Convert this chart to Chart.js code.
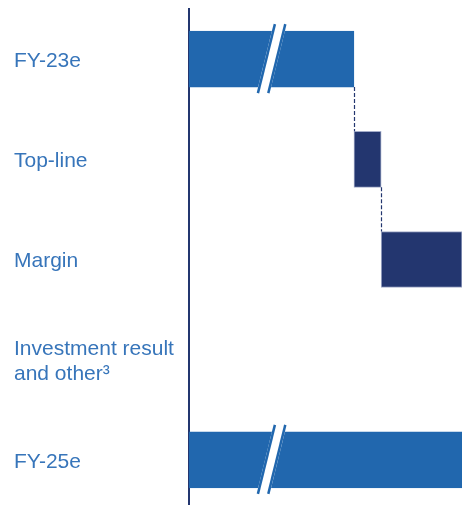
<!DOCTYPE html>
<html>
<head>
<meta charset="utf-8">
<script src="https://cdn.jsdelivr.net/npm/chart.js@4.4.1/dist/chart.umd.min.js"></script>
<style>
  html, body { margin: 0; padding: 0; background: #fff; overflow: hidden; }
  canvas { display: block; }
</style>
</head>
<body>
<canvas id="walk" width="462" height="510"></canvas>
<script>
// EPS walk FY-23e -> FY-25e (index, axis truncated)
const categories = ['FY-23e', 'Top-line', 'Margin', ['Investment result', 'and other³'], 'FY-25e'];
const startValue = 100;
const deltas = [3.3, 9.8, 0];          // Top-line, Margin, Investment result and other
const axisMin = 80;
const breakAt = 90;                    // where the axis-break slash sits

const BLUE = '#2167ae';
const NAVY = '#23366f';

// floating bars: totals start at the axis, deltas stack on the running total
const ranges = [[axisMin, startValue]];
let running = startValue;
deltas.forEach(d => { ranges.push([running, running + d]); running += d; });
ranges.push([axisMin, running]);
const endValue = running;

const last = categories.length - 1;
const colors = categories.map((c, i) => (i === 0 || i === last) ? BLUE : NAVY);
const borders = categories.map((c, i) => (i === 0 || i === last) ? BLUE : '#a3acc9');

const walkExtras = {
  id: 'walkExtras',
  afterDatasetsDraw(chart) {
    const ctx = chart.ctx;
    const xs = chart.scales.x;
    const bars = chart.getDatasetMeta(0).data;

    // dashed connectors between consecutive non-empty steps
    ctx.save();
    ctx.strokeStyle = NAVY;
    ctx.lineWidth = 1.2;
    ctx.setLineDash([4, 2]);
    for (let i = 0; i < last - 1; i++) {
      if (ranges[i + 1][1] === ranges[i + 1][0]) continue;
      const a = bars[i], b = bars[i + 1];
      const x = Math.round(xs.getPixelForValue(ranges[i][1])) + 0.5;
      ctx.beginPath();
      ctx.moveTo(x, a.y + a.height / 2);
      ctx.lineTo(x, b.y - b.height / 2);
      ctx.stroke();
    }
    ctx.restore();

    // break slashes on the two total bars
    [0, last].forEach(i => {
      const bar = bars[i];
      const cx = xs.getPixelForValue(breakAt);
      const top = bar.y - bar.height / 2 - 7;
      const bot = bar.y + bar.height / 2 + 6;
      const slope = 17 / 69;
      const dxTop = (bar.y - top) * slope;
      const dxBot = (bot - bar.y) * slope;
      ctx.save();
      ctx.fillStyle = '#fff';
      ctx.beginPath();
      ctx.moveTo(cx + dxTop - 6.5, top);
      ctx.lineTo(cx + dxTop + 6.5, top);
      ctx.lineTo(cx - dxBot + 6.5, bot);
      ctx.lineTo(cx - dxBot - 6.5, bot);
      ctx.closePath();
      ctx.fill();
      ctx.strokeStyle = BLUE;
      ctx.lineWidth = 2.5;
      [-5.2, 5.2].forEach(o => {
        ctx.beginPath();
        ctx.moveTo(cx + dxTop + o, top);
        ctx.lineTo(cx - dxBot + o, bot);
        ctx.stroke();
      });
      ctx.restore();
    });
  }
};

new Chart(document.getElementById('walk'), {
  type: 'bar',
  data: {
    labels: categories,
    datasets: [{
      data: ranges,
      backgroundColor: colors,
      borderColor: borders,
      borderWidth: 1,
      borderSkipped: false,
      barThickness: 56
    }]
  },
  options: {
    indexAxis: 'y',
    responsive: false,
    animation: false,
    layout: { padding: { left: 14, top: 9, right: 0, bottom: 0 } },
    plugins: { legend: { display: false }, tooltip: { enabled: false } },
    scales: {
      x: { display: false, min: axisMin, max: endValue },
      y: {
        grid: { display: false, drawTicks: false },
        border: { display: true, color: NAVY, width: 2 },
        ticks: {
          color: '#3775ba',
          crossAlign: 'far',
          padding: 0,
          labelOffset: 2,
          font: { family: 'Liberation Sans', size: 21, lineHeight: 1.19 }
        },
        afterFit(scale) {
          scale.width = 175;
          scale.paddingTop = 0;
          scale.paddingBottom = 0;
        }
      }
    }
  },
  plugins: [walkExtras]
});
</script>
</body>
</html>
